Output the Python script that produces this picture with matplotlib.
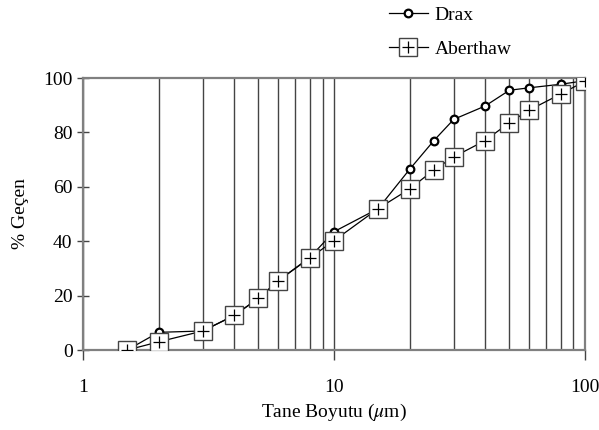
import matplotlib
matplotlib.use('Agg')
import matplotlib.pyplot as plt
from matplotlib.ticker import FixedLocator, NullFormatter

plt.rcParams['font.family'] = ['Liberation Serif', 'DejaVu Serif']
plt.rcParams['mathtext.fontset'] = 'stix'

# particle size (um) and % passing
drax_x = [1.5, 2, 3, 4, 5, 6, 8, 10, 15, 20, 25, 30, 40, 50, 60, 80, 100]
drax_y = [0, 6.5, 7, 12.7, 19, 25.5, 34, 43.5, 52, 66.4, 77, 84.8, 89.7, 95.5, 96.4, 97.7, 99]
aber_x = [1.5, 2, 3, 4, 5, 6, 8, 10, 15, 20, 25, 30, 40, 50, 60, 80, 100]
aber_y = [0, 3, 7, 12.7, 19, 25.5, 33.8, 40.2, 52, 59.2, 66.2, 71, 77, 83.6, 88.2, 94.1, 98.8]

grid_x = [2, 3, 4, 5, 6, 7, 8, 9, 20, 30, 40, 50, 60, 70, 80, 90]

fig = plt.figure(figsize=(5.99, 4.30), dpi=100)
ax = fig.add_axes([0.1386, 0.186, 0.838, 0.6326])

fs = 14
drax_line, = ax.plot(drax_x, drax_y, color='black', lw=0.9, marker='o', ms=5.5,
                     mfc='white', mec='black', mew=1.6, zorder=3)
aber_line, = ax.plot(aber_x, aber_y, color='black', lw=0.9, marker='s', ms=13,
                     mfc='white', mec='#444444', mew=1.0, zorder=4)
aber_plus, = ax.plot(aber_x, aber_y, ls='none', marker='+', ms=9,
                     mec='black', mew=0.9, zorder=5)

ax.set_xscale('log')
ax.set_xlim(1, 100)
ax.set_ylim(0, 100)
ax.xaxis.set_major_locator(FixedLocator([1, 10, 100]))
ax.xaxis.set_minor_locator(FixedLocator(grid_x))
ax.xaxis.set_minor_formatter(NullFormatter())
ax.set_xticklabels(['1', '10', '100'])
ax.set_yticks([0, 20, 40, 60, 80, 100])

ax.grid(axis='x', which='both', color='#444444', lw=1.0)
ax.tick_params(axis='x', which='major', direction='out', length=7, width=1,
               color='#444444', pad=14, labelsize=fs)
ax.tick_params(axis='x', which='minor', length=0)
ax.tick_params(axis='y', direction='inout', length=9, width=1,
               color='#444444', labelsize=fs, pad=3)
for s in ax.spines.values():
    s.set_color('#808080')
    s.set_linewidth(1.6)

ax.set_xlabel('Tane Boyutu ($\\mu$m)', fontsize=fs, labelpad=4)
ax.set_ylabel('% Geçen', fontsize=fs, labelpad=10)

fig.legend([drax_line, (aber_line, aber_plus)], ['Drax', 'Aberthaw'],
           loc='upper left', bbox_to_anchor=(389 / 599, 0.986), frameon=False,
           borderpad=0, borderaxespad=0, fontsize=fs, handlelength=2.0,
           handletextpad=0.35, labelspacing=0.85)

fig.savefig('out.png', dpi=100)
